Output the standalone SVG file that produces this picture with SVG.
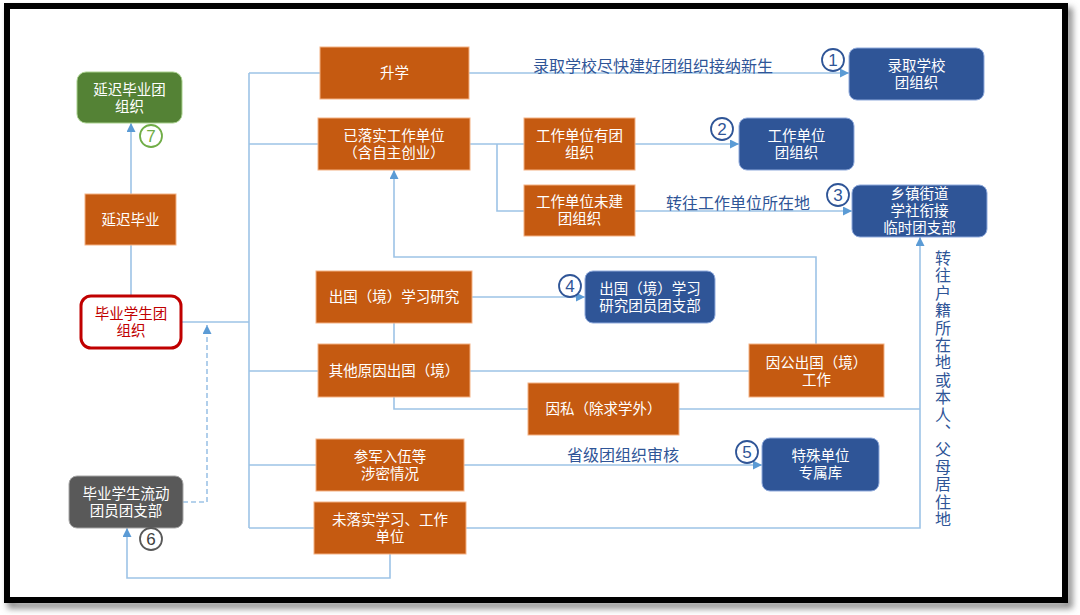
<svg xmlns="http://www.w3.org/2000/svg" width="1080" height="615" viewBox="0 0 1080 615">
<defs>
<filter id="sh" x="-5%" y="-5%" width="110%" height="110%"><feGaussianBlur stdDeviation="3"/></filter>
<marker id="ar" markerUnits="userSpaceOnUse" markerWidth="10" markerHeight="10" refX="9" refY="4.5" orient="auto"><path d="M0,0 L9,4.5 L0,9 Z" fill="#5B9BD5"/></marker>
<style>
.o{fill:#C55A11;stroke:#F4B183;stroke-width:1}
.b{fill:#2F5597;stroke:#8FAADC;stroke-width:1}
.t{font-family:"Liberation Sans","Noto Sans CJK SC",sans-serif;font-size:14.5px;fill:#fff;text-anchor:middle}
.l{font-family:"Noto Sans CJK SC","Noto Sans",sans-serif;font-size:16px;fill:#2F5597;text-anchor:middle}
.c{fill:none;stroke:#9DC3E6;stroke-width:1.6}
.n{fill:#fff;stroke-width:1.8}
.d{font-family:"Liberation Sans",sans-serif;font-size:17px;text-anchor:middle}
</style>
</defs>
<rect x="0" y="0" width="1080" height="615" fill="#fff"/>
<rect x="11" y="11" width="1058" height="594" fill="none" stroke="#888" stroke-width="7" filter="url(#sh)"/>
<rect x="7" y="6" width="1058" height="594" fill="#fff" stroke="#000" stroke-width="6"/>

<g id="connectors">
<path class="c" d="M249,73 V528"/>
<path class="c" d="M249,73 H320"/>
<path class="c" d="M469,73 H849" marker-end="url(#ar)"/>
<path class="c" d="M249,144 H318"/>
<path class="c" d="M470,144 H524"/>
<path class="c" d="M497,144 V211 H524"/>
<path class="c" d="M635,144 H739" marker-end="url(#ar)"/>
<path class="c" d="M635,211 H852" marker-end="url(#ar)"/>
<path class="c" d="M182,322 H249"/>
<path class="c" d="M249,371 H318"/>
<path class="c" d="M249,465 H316"/>
<path class="c" d="M249,528 H314"/>
<path class="c" d="M472,297 H585" marker-end="url(#ar)"/>
<path class="c" d="M394,323 V344"/>
<path class="c" d="M470,371 H749"/>
<path class="c" d="M394,397 V409 H528"/>
<path class="c" d="M679,409 H920"/>
<path class="c" d="M466,528 H920 V237" marker-end="url(#ar)"/>
<path class="c" d="M816,344 V257 H394 V170" marker-end="url(#ar)"/>
<path class="c" d="M464,465 H762" marker-end="url(#ar)"/>
<path class="c" d="M390,554 V578 H127 V528" marker-end="url(#ar)"/>
<path class="c" d="M183,502 H207 V325" stroke-dasharray="5,3" marker-end="url(#ar)"/>
<path class="c" d="M131,295 V245"/>
<path class="c" d="M131,194 V123" marker-end="url(#ar)"/>
<text class="l" x="653" y="72">录取学校尽快建好团组织接纳新生</text>
<text class="l" x="738" y="209">转往工作单位所在地</text>
<text class="l" x="623" y="461">省级团组织审核</text>
<text x="943" y="250" style="font-family:'Noto Sans CJK SC','Noto Sans',sans-serif;font-size:16px;fill:#2F5597;writing-mode:vertical-rl;letter-spacing:1.4px">转往户籍所在地或本人、父母居住地</text>
</g>

<g id="n-shengxue"><rect class="o" x="320" y="47" width="149" height="52"/><text class="t" x="394.5" y="78">升学</text></g>
<g id="n-yiluoshi"><rect class="o" x="318" y="118" width="152" height="52"/><text class="t" x="394" y="141">已落实工作单位<tspan x="394" dy="17">（含自主创业）</tspan></text></g>
<g id="n-youtuan"><rect class="o" x="524" y="118" width="111" height="52"/><text class="t" x="579.5" y="141">工作单位有团<tspan x="579.5" dy="17">组织</tspan></text></g>
<g id="n-weijian"><rect class="o" x="524" y="185" width="111" height="51"/><text class="t" x="579.5" y="207">工作单位未建<tspan x="579.5" dy="17">团组织</tspan></text></g>
<g id="n-chuguo"><rect class="o" x="316" y="271" width="156" height="52"/><text class="t" x="394" y="302">出国（境）学习研究</text></g>
<g id="n-qita"><rect class="o" x="318" y="344" width="152" height="53"/><text class="t" x="394" y="376">其他原因出国（境）</text></g>
<g id="n-yinsi"><rect class="o" x="528" y="383" width="151" height="52"/><text class="t" x="603.5" y="414">因私（除求学外）</text></g>
<g id="n-yingong"><rect class="o" x="749" y="344" width="135" height="53"/><text class="t" x="816.5" y="368">因公出国（境）<tspan x="816.5" dy="17">工作</tspan></text></g>
<g id="n-canjun"><rect class="o" x="316" y="439" width="148" height="52"/><text class="t" x="390" y="462">参军入伍等<tspan x="390" dy="17">涉密情况</tspan></text></g>
<g id="n-weiluoshi"><rect class="o" x="314" y="502" width="152" height="52"/><text class="t" x="390" y="525">未落实学习、工作<tspan x="390" dy="17">单位</tspan></text></g>
<g id="n-yanchi"><rect class="o" x="85" y="194" width="91" height="51"/><text class="t" x="130.5" y="225">延迟毕业</text></g>

<g id="n-luqu"><rect class="b" x="849" y="48" width="135" height="52" rx="8"/><text class="t" x="916.5" y="70.5">录取学校<tspan x="916.5" dy="17">团组织</tspan></text></g>
<g id="n-gzdw"><rect class="b" x="739" y="118" width="115" height="52" rx="8"/><text class="t" x="796.5" y="141">工作单位<tspan x="796.5" dy="17">团组织</tspan></text></g>
<g id="n-xiangzhen"><rect class="b" x="852" y="185" width="135" height="52" rx="8"/><text class="t" x="919.5" y="199">乡镇街道<tspan x="919.5" dy="17">学社衔接</tspan><tspan x="919.5" dy="17">临时团支部</tspan></text></g>
<g id="n-cgtzb"><rect class="b" x="585" y="271" width="130" height="52" rx="8"/><text class="t" x="650" y="293.5">出国（境）学习<tspan x="650" dy="17">研究团员团支部</tspan></text></g>
<g id="n-teshu"><rect class="b" x="762" y="438" width="117" height="53" rx="8"/><text class="t" x="820.5" y="460.5">特殊单位<tspan x="820.5" dy="17">专属库</tspan></text></g>

<g id="n-yanchituan"><rect x="77" y="72" width="105" height="51" rx="9" fill="#548235" stroke="#A9D18E" stroke-width="1"/><text class="t" x="129.5" y="94.5">延迟毕业团<tspan x="129.5" dy="17">组织</tspan></text></g>
<g id="n-biye"><rect x="81" y="296" width="100" height="52" rx="10" fill="#fff" stroke="#C00000" stroke-width="3"/><text class="t" x="131" y="319" style="fill:#C00000">毕业学生团<tspan x="131" dy="17">组织</tspan></text></g>
<g id="n-liudong"><rect x="69" y="476" width="114" height="52" rx="8" fill="#595959" stroke="#A6A6A6" stroke-width="1"/><text class="t" x="126" y="499">毕业学生流动<tspan x="126" dy="17">团员团支部</tspan></text></g>

<g id="badges">
<g stroke="#2F5597"><circle class="n" cx="833" cy="60" r="11"/><circle class="n" cx="722" cy="129" r="11"/><circle class="n" cx="838" cy="195" r="11"/><circle class="n" cx="570" cy="286" r="11"/><circle class="n" cx="747" cy="452" r="11"/></g>
<g fill="#2F5597"><text class="d" x="833" y="66">1</text><text class="d" x="722" y="135">2</text><text class="d" x="838" y="201">3</text><text class="d" x="570" y="292">4</text><text class="d" x="747" y="458">5</text></g>
<circle class="n" cx="151" cy="539" r="11" stroke="#595959"/><text class="d" x="151" y="545" fill="#404040">6</text>
<circle class="n" cx="151" cy="136" r="11" stroke="#70AD47"/><text class="d" x="151" y="142" fill="#70AD47">7</text>
</g>
</svg>
